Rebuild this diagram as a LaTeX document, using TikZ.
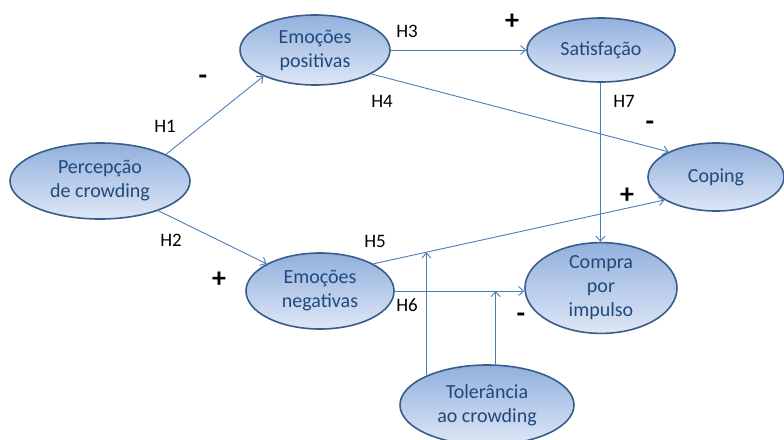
\documentclass[tikz,border=0pt]{standalone}
\usepackage{fontspec}
\setmainfont{Carlito}
\usetikzlibrary{shapes.geometric,arrows.meta,calc}
\definecolor{ebord}{RGB}{56,93,138}
\definecolor{etop}{RGB}{146,176,221}
\definecolor{ebot}{RGB}{222,231,246}
\definecolor{etext}{RGB}{31,73,125}
\definecolor{arrc}{RGB}{74,126,187}
\tikzset{
  ell/.style={ellipse, draw=ebord, line width=1.6pt, top color=etop, bottom color=ebot,
    inner sep=0pt, align=center, text=etext, font=\fontsize{20}{24}\selectfont},
  arr/.style={draw=arrc, line width=0.9pt, -{Straight Barb[length=5pt,width=9pt]}},
  hlab/.style={font=\fontsize{19}{22}\selectfont, text=black, inner sep=0pt},
  sgn/.style={font=\fontsize{28}{30}\selectfont\bfseries, text=black, inner sep=0pt}
}
\begin{document}
\begin{tikzpicture}[x=1pt,y=-1pt]
\useasboundingbox[fill=white] (0,0) rectangle (784,439);
\node[ell, minimum width=180pt, minimum height=76pt] (perc) at (100,181) {Percepção\\de crowding};
\node[ell, minimum width=150pt, minimum height=70pt] (empos) at (315,50) {Emoções\\positivas};
\node[ell, minimum width=148pt, minimum height=64pt] (sat) at (601,50) {Satisfação};
\node[ell, minimum width=136pt, minimum height=68pt] (cop) at (716,177) {Coping};
\node[ell, minimum width=148pt, minimum height=76pt] (emneg) at (320,291) {Emoções\\negativas};
\node[ell, minimum width=152pt, minimum height=72pt] (comp) at (601,288) {Compra\\por\\impulso};
\node[ell, minimum width=174pt, minimum height=80pt] (tol) at (487,405) {Tolerância\\ao crowding};

\draw[arr] (perc.22.4) -- (empos.207.4);
\draw[arr] (perc.-27.6) -- (emneg.153.9);
\draw[arr] (empos.east) -- (sat.west);
\draw[arr] (empos.-23.5) -- (cop.152.5);
\draw[arr] (sat.-91) -- (sat.-91 |- comp.north);
\draw[arr] (emneg.27) -- coordinate[pos=0.18] (h5) (cop.204.6);
\draw[arr] (emneg.east) -- (emneg.east -| comp.west);
\draw[arr] (tol.154.9) -- (tol.154.9 |- h5);
\draw[arr] (tol.78.6) -- (tol.78.6 |- emneg.east);

\node[sgn] (s1) at (203,80) {-};
\node[hlab] (l1) at (165,126) {H1};
\node[hlab] (l2) at (171,240) {H2};
\node[sgn] (s2) at (219,280) {+};
\node[hlab] (l3) at (407,31) {H3};
\node[sgn] (s3) at (512,22) {+};
\node[hlab] (l4) at (382,101) {H4};
\node[hlab] (l7) at (624,101) {H7};
\node[sgn] (s4) at (650,126) {-};
\node[sgn] (s5) at (627,196) {+};
\node[hlab] (l5) at (375,241) {H5};
\node[hlab] (l6) at (407,305) {H6};
\node[sgn] (s6) at (521,318) {-};
\end{tikzpicture}
\end{document}
